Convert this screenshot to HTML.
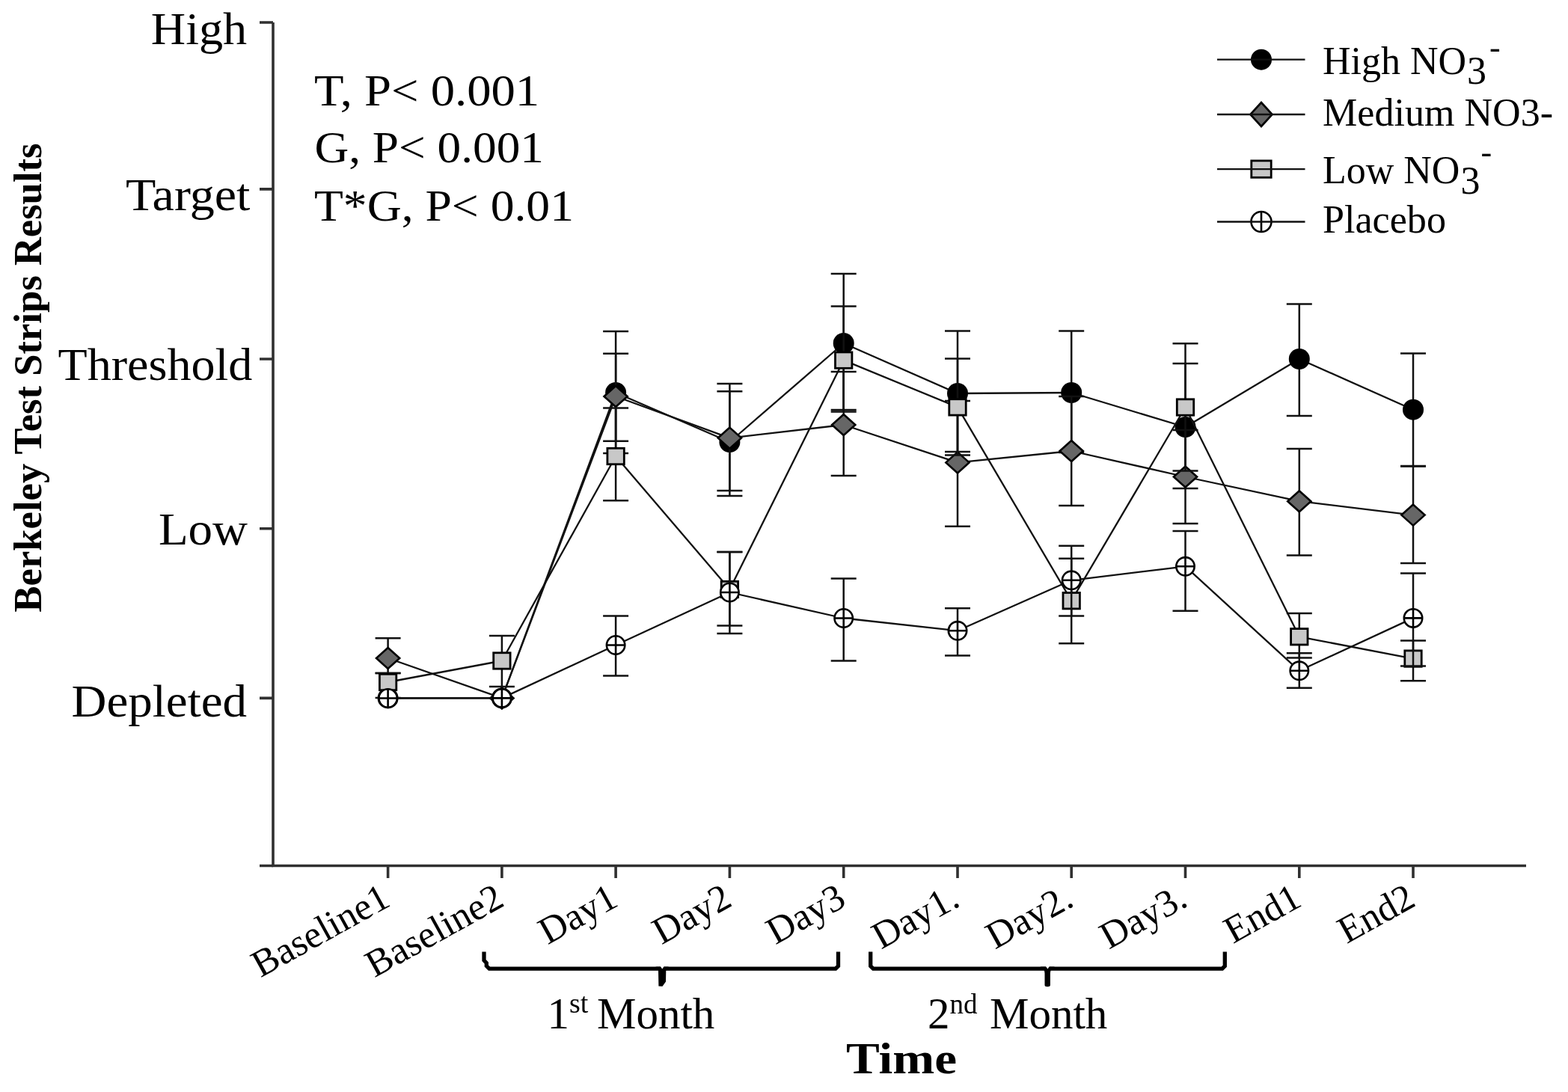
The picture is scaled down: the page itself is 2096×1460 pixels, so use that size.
<!DOCTYPE html>
<html><head><meta charset="utf-8"><title>Berkeley Test Strips Results</title>
<style>
html,body{margin:0;padding:0;background:#fff;}
svg{display:block;}
text{fill:#000;font-family:'Liberation Serif','Times New Roman',serif;}
</style></head>
<body>
<svg width="2096" height="1460" viewBox="0 0 2096 1460">
<rect width="2096" height="1460" fill="#fff"/>
<path d="M365 30V1157.5H2040" fill="none" stroke="#303030" stroke-width="3.6"/>
<path d="M347 30H365M347 252.9H365M347 480H365M347 706.8H365M347 933.4H365M347 1157.5H365" stroke="#303030" stroke-width="3.6"/>
<path d="M518.6 1157.5V1174M670.9 1157.5V1174M823.1 1157.5V1174M975.4 1157.5V1174M1127.7 1157.5V1174M1280 1157.5V1174M1432.2 1157.5V1174M1584.5 1157.5V1174M1736.8 1157.5V1174M1889 1157.5V1174" stroke="#303030" stroke-width="3.6"/>
<text x="201.8" y="58.6" font-size="61" text-anchor="start" font-weight="normal" textLength="128.4" lengthAdjust="spacingAndGlyphs">High</text>
<text x="167.9" y="280.5" font-size="61" text-anchor="start" font-weight="normal" textLength="166.4" lengthAdjust="spacingAndGlyphs">Target</text>
<text x="77.5" y="507.8" font-size="61" text-anchor="start" font-weight="normal" textLength="259.9" lengthAdjust="spacingAndGlyphs">Threshold</text>
<text x="211.9" y="727.5" font-size="61" text-anchor="start" font-weight="normal" textLength="119.2" lengthAdjust="spacingAndGlyphs">Low</text>
<text x="95.5" y="958" font-size="61" text-anchor="start" font-weight="normal" textLength="234.5" lengthAdjust="spacingAndGlyphs">Depleted</text>
<text transform="translate(54.5 505) rotate(-90)" x="0" y="0" font-size="52" font-weight="bold" text-anchor="middle" textLength="627" lengthAdjust="spacingAndGlyphs">Berkeley Test Strips Results</text>
<text x="420" y="141.1" font-size="60" text-anchor="start" font-weight="normal" textLength="301.2" lengthAdjust="spacingAndGlyphs">T, P&lt; 0.001</text>
<text x="420.5" y="217.4" font-size="60" text-anchor="start" font-weight="normal" textLength="306.5" lengthAdjust="spacingAndGlyphs">G, P&lt; 0.001</text>
<text x="420" y="294.7" font-size="60" text-anchor="start" font-weight="normal" textLength="347" lengthAdjust="spacingAndGlyphs">T*G, P&lt; 0.01</text>
<text transform="translate(524.1 1210) rotate(-29)" font-size="51" text-anchor="end">Baseline1</text>
<text transform="translate(676.4 1210) rotate(-29)" font-size="51" text-anchor="end">Baseline2</text>
<text transform="translate(828.6 1210) rotate(-29)" font-size="51" text-anchor="end">Day1</text>
<text transform="translate(980.9 1210) rotate(-29)" font-size="51" text-anchor="end">Day2</text>
<text transform="translate(1133.2 1210) rotate(-29)" font-size="51" text-anchor="end">Day3</text>
<text transform="translate(1285.5 1210) rotate(-29)" font-size="51" text-anchor="end">Day1.</text>
<text transform="translate(1437.7 1210) rotate(-29)" font-size="51" text-anchor="end">Day2.</text>
<text transform="translate(1590 1210) rotate(-29)" font-size="51" text-anchor="end">Day3.</text>
<text transform="translate(1742.3 1210) rotate(-29)" font-size="51" text-anchor="end">End1</text>
<text transform="translate(1894.5 1210) rotate(-29)" font-size="51" text-anchor="end">End2</text>
<path d="M647 1272.5V1284L650.3 1287.5V1291.5L654 1295.2H1117L1120.5 1291.7V1272.5" fill="none" stroke="#000" stroke-width="5.3"/><path d="M876 1292.4Q880 1293 880 1298L880.4 1318.5L885.5 1318.8L890 1312.5L890.3 1298Q890.5 1293 894.5 1292.4Z" fill="#000"/><path d="M882.8 1292.1L887.6 1292.1L885.2 1295.6Z" fill="#fff"/>
<path d="M1163.7 1272.5V1291.7L1167.2 1295.2H1633.8L1637.3 1291.7V1272.5" fill="none" stroke="#000" stroke-width="5.3"/><path d="M1390.2 1292.4Q1395.7 1293 1396.5 1301L1396.5 1317Q1396.5 1319.2 1400.2 1319.2Q1403.9 1319.2 1403.9 1317L1403.9 1301Q1404.7 1293 1410.2 1292.4Z" fill="#000"/><path d="M1398 1292.1L1402.8 1292.1L1400.4 1295.6Z" fill="#fff"/>
<text x="731.5" y="1374.6" font-size="59">1<tspan font-size="38" dy="-20.5">st</tspan><tspan dy="20.5" x="798">Month</tspan></text>
<text x="1240" y="1374.6" font-size="59">2<tspan font-size="37" dy="-19.5">nd</tspan><tspan dy="19.5" x="1323">Month</tspan></text>
<text x="1131" y="1435" font-size="60" text-anchor="start" font-weight="bold" textLength="148" lengthAdjust="spacingAndGlyphs">Time</text>
<g fill="none" stroke="#111" stroke-width="2.5"><path d="M823.1 443V606M806.1 443H840.1M806.1 606H840.1"/><path d="M975.4 523.3V663M958.4 523.3H992.4M958.4 663H992.4"/><path d="M1127.7 366V548M1110.7 366H1144.7M1110.7 548H1144.7"/><path d="M1280 442.6V604M1263 442.6H1297M1263 604H1297"/><path d="M1432.2 442.6V605M1415.2 442.6H1449.2M1415.2 605H1449.2"/><path d="M1584.5 486V653M1567.5 486H1601.5M1567.5 653H1601.5"/><path d="M1736.8 406.5V556M1719.8 406.5H1753.8M1719.8 556H1753.8"/><path d="M1889 472.6V623M1872 472.6H1906M1872 623H1906"/></g>
<g fill="none" stroke="#111" stroke-width="2.3" stroke-linejoin="round"><polyline points="518.6,933.4 670.9,933.4 823.1,525 975.4,591 1127.7,459 1280,526 1432.2,525 1584.5,571 1736.8,480 1889,547.7"/></g>
<g><circle cx="518.6" cy="933.4" r="14" fill="#000"/><circle cx="670.9" cy="933.4" r="14" fill="#000"/><circle cx="823.1" cy="525" r="14" fill="#000"/><circle cx="975.4" cy="591" r="14" fill="#000"/><circle cx="1127.7" cy="459" r="14" fill="#000"/><circle cx="1280" cy="526" r="14" fill="#000"/><circle cx="1432.2" cy="525" r="14" fill="#000"/><circle cx="1584.5" cy="571" r="14" fill="#000"/><circle cx="1736.8" cy="480" r="14" fill="#000"/><circle cx="1889" cy="547.7" r="14" fill="#000"/></g>
<g fill="none" stroke="#111" stroke-width="2.5"><path d="M518.6 853.2V900M501.6 853.2H535.6M501.6 900H535.6"/><path d="M823.1 472.7V589.7M806.1 472.7H840.1M806.1 589.7H840.1"/><path d="M975.4 513V656M958.4 513H992.4M958.4 656H992.4"/><path d="M1127.7 497V636M1110.7 497H1144.7M1110.7 636H1144.7"/><path d="M1280 536V703.7M1263 536H1297M1263 703.7H1297"/><path d="M1432.2 530V676M1415.2 530H1449.2M1415.2 676H1449.2"/><path d="M1584.5 575V700M1567.5 575H1601.5M1567.5 700H1601.5"/><path d="M1736.8 600V742.5M1719.8 600H1753.8M1719.8 742.5H1753.8"/><path d="M1889 623.6V753M1872 623.6H1906M1872 753H1906"/></g>
<g fill="none" stroke="#111" stroke-width="2.3" stroke-linejoin="round"><polyline points="518.6,880 670.9,933.4 823.1,530 975.4,585.6 1127.7,568 1280,618.4 1432.2,603 1584.5,637.5 1736.8,670.2 1889,688.6"/></g>
<g><path d="M518.6 866L534.2 880L518.6 894L503 880Z" fill="#666" stroke="#000" stroke-width="2.6" stroke-linejoin="miter"/><path d="M670.9 919.4L686.5 933.4L670.9 947.4L655.3 933.4Z" fill="#666" stroke="#000" stroke-width="2.6" stroke-linejoin="miter"/><path d="M823.1 516L838.7 530L823.1 544L807.5 530Z" fill="#666" stroke="#000" stroke-width="2.6" stroke-linejoin="miter"/><path d="M975.4 571.6L991 585.6L975.4 599.6L959.8 585.6Z" fill="#666" stroke="#000" stroke-width="2.6" stroke-linejoin="miter"/><path d="M1127.7 554L1143.3 568L1127.7 582L1112.1 568Z" fill="#666" stroke="#000" stroke-width="2.6" stroke-linejoin="miter"/><path d="M1280 604.4L1295.5 618.4L1280 632.4L1264.4 618.4Z" fill="#666" stroke="#000" stroke-width="2.6" stroke-linejoin="miter"/><path d="M1432.2 589L1447.8 603L1432.2 617L1416.6 603Z" fill="#666" stroke="#000" stroke-width="2.6" stroke-linejoin="miter"/><path d="M1584.5 623.5L1600.1 637.5L1584.5 651.5L1568.9 637.5Z" fill="#666" stroke="#000" stroke-width="2.6" stroke-linejoin="miter"/><path d="M1736.8 656.2L1752.4 670.2L1736.8 684.2L1721.2 670.2Z" fill="#666" stroke="#000" stroke-width="2.6" stroke-linejoin="miter"/><path d="M1889 674.6L1904.6 688.6L1889 702.6L1873.4 688.6Z" fill="#666" stroke="#000" stroke-width="2.6" stroke-linejoin="miter"/></g>
<g fill="none" stroke="#111" stroke-width="2.5"><path d="M518.6 900V933M501.6 900H535.6M501.6 933H535.6"/><path d="M670.9 850V918M653.9 850H687.9M653.9 918H687.9"/><path d="M823.1 545.6V669.3M806.1 545.6H840.1M806.1 669.3H840.1"/><path d="M975.4 738V836.5M958.4 738H992.4M958.4 836.5H992.4"/><path d="M1127.7 409.6V550.5M1110.7 409.6H1144.7M1110.7 550.5H1144.7"/><path d="M1280 479.6V608.5M1263 479.6H1297M1263 608.5H1297"/><path d="M1432.2 746.7V860.2M1415.2 746.7H1449.2M1415.2 860.2H1449.2"/><path d="M1584.5 459.2V629.5M1567.5 459.2H1601.5M1567.5 629.5H1601.5"/><path d="M1736.8 820V879.6M1719.8 820H1753.8M1719.8 879.6H1753.8"/><path d="M1889 856.6V910.2M1872 856.6H1906M1872 910.2H1906"/></g>
<g fill="none" stroke="#111" stroke-width="2.3" stroke-linejoin="round"><polyline points="518.6,912 670.9,883.5 823.1,610 975.4,788 1127.7,481.6 1280,544.4 1432.2,803.2 1584.5,544.5 1736.8,851.3 1889,880.6"/></g>
<g><rect x="507.4" y="901.3" width="22.4" height="21.4" fill="#c8c8c8" stroke="#000" stroke-width="2.8"/><rect x="659.7" y="872.8" width="22.4" height="21.4" fill="#c8c8c8" stroke="#000" stroke-width="2.8"/><rect x="811.9" y="599.3" width="22.4" height="21.4" fill="#c8c8c8" stroke="#000" stroke-width="2.8"/><rect x="964.2" y="777.3" width="22.4" height="21.4" fill="#c8c8c8" stroke="#000" stroke-width="2.8"/><rect x="1116.5" y="470.9" width="22.4" height="21.4" fill="#c8c8c8" stroke="#000" stroke-width="2.8"/><rect x="1268.8" y="533.7" width="22.4" height="21.4" fill="#c8c8c8" stroke="#000" stroke-width="2.8"/><rect x="1421" y="792.5" width="22.4" height="21.4" fill="#c8c8c8" stroke="#000" stroke-width="2.8"/><rect x="1573.3" y="533.8" width="22.4" height="21.4" fill="#c8c8c8" stroke="#000" stroke-width="2.8"/><rect x="1725.6" y="840.6" width="22.4" height="21.4" fill="#c8c8c8" stroke="#000" stroke-width="2.8"/><rect x="1877.8" y="869.9" width="22.4" height="21.4" fill="#c8c8c8" stroke="#000" stroke-width="2.8"/></g>
<g fill="none" stroke="#111" stroke-width="2.5"><path d="M823.1 823.4V903.6M806.1 823.4H840.1M806.1 903.6H840.1"/><path d="M975.4 738V847M958.4 738H992.4M958.4 847H992.4"/><path d="M1127.7 773.6V883.5M1110.7 773.6H1144.7M1110.7 883.5H1144.7"/><path d="M1280 813.3V876.6M1263 813.3H1297M1263 876.6H1297"/><path d="M1432.2 729.8V823.6M1415.2 729.8H1449.2M1415.2 823.6H1449.2"/><path d="M1584.5 710V816.8M1567.5 710H1601.5M1567.5 816.8H1601.5"/><path d="M1736.8 873.3V919.8M1719.8 873.3H1753.8M1719.8 919.8H1753.8"/><path d="M1889 766.6V890.5M1872 766.6H1906M1872 890.5H1906"/></g>
<g fill="none" stroke="#111" stroke-width="2.3" stroke-linejoin="round"><polyline points="518.6,933.5 670.9,933.4 823.1,862.5 975.4,792 1127.7,826.5 1280,843.3 1432.2,775.8 1584.5,757.3 1736.8,896.8 1889,826.4"/></g>
<g><circle cx="518.6" cy="933.5" r="12.2" fill="#fff" stroke="#000" stroke-width="2.6"/><path d="M518.6 921.3V945.7M506.4 933.5H530.8" stroke="#000" stroke-width="2.6"/><circle cx="670.9" cy="933.4" r="12.2" fill="#fff" stroke="#000" stroke-width="2.6"/><path d="M670.9 921.2V945.6M658.7 933.4H683.1" stroke="#000" stroke-width="2.6"/><circle cx="823.1" cy="862.5" r="12.2" fill="#fff" stroke="#000" stroke-width="2.6"/><path d="M823.1 850.3V874.7M810.9 862.5H835.3" stroke="#000" stroke-width="2.6"/><circle cx="975.4" cy="792" r="12.2" fill="#fff" stroke="#000" stroke-width="2.6"/><path d="M975.4 779.8V804.2M963.2 792H987.6" stroke="#000" stroke-width="2.6"/><circle cx="1127.7" cy="826.5" r="12.2" fill="#fff" stroke="#000" stroke-width="2.6"/><path d="M1127.7 814.3V838.7M1115.5 826.5H1139.9" stroke="#000" stroke-width="2.6"/><circle cx="1280" cy="843.3" r="12.2" fill="#fff" stroke="#000" stroke-width="2.6"/><path d="M1280 831.1V855.5M1267.8 843.3H1292.2" stroke="#000" stroke-width="2.6"/><circle cx="1432.2" cy="775.8" r="12.2" fill="#fff" stroke="#000" stroke-width="2.6"/><path d="M1432.2 763.6V788M1420 775.8H1444.4" stroke="#000" stroke-width="2.6"/><circle cx="1584.5" cy="757.3" r="12.2" fill="#fff" stroke="#000" stroke-width="2.6"/><path d="M1584.5 745.1V769.5M1572.3 757.3H1596.7" stroke="#000" stroke-width="2.6"/><circle cx="1736.8" cy="896.8" r="12.2" fill="#fff" stroke="#000" stroke-width="2.6"/><path d="M1736.8 884.6V909M1724.6 896.8H1749" stroke="#000" stroke-width="2.6"/><circle cx="1889" cy="826.4" r="12.2" fill="#fff" stroke="#000" stroke-width="2.6"/><path d="M1889 814.2V838.6M1876.8 826.4H1901.2" stroke="#000" stroke-width="2.6"/></g>
<circle cx="1686" cy="79.7" r="14" fill="#000"/>
<path d="M1686 137L1700.6 153L1686 169L1671.4 153Z" fill="#666" stroke="#000" stroke-width="2.6" stroke-linejoin="miter"/>
<rect x="1672.8" y="214.9" width="26.4" height="22.4" fill="#c8c8c8" stroke="#000" stroke-width="2.8"/>
<circle cx="1686" cy="296.5" r="13.5" fill="#fff" stroke="#000" stroke-width="2.6"/><path d="M1686 283V310" stroke="#000" stroke-width="2.6"/>
<path d="M1627 79.7H1744.5M1627 153H1744.5M1627 226.1H1744.5M1627 296.5H1744.5" stroke="#111" stroke-width="2.3"/>
<text x="1768" y="99.3" font-size="52">High NO<tspan y="111.8" dx="1">3</tspan><tspan x="1991" y="77.5" font-size="44">-</tspan></text>
<text x="1768" y="168" font-size="52" text-anchor="start" font-weight="normal" textLength="308" lengthAdjust="spacingAndGlyphs">Medium NO3-</text>
<text x="1768" y="244.6" font-size="52">Low NO<tspan y="258.5" dx="1">3</tspan><tspan x="1979.5" y="218.1" font-size="44">-</tspan></text>
<text x="1768" y="311" font-size="52" text-anchor="start" font-weight="normal" textLength="165" lengthAdjust="spacingAndGlyphs">Placebo</text>
</svg>
</body></html>
